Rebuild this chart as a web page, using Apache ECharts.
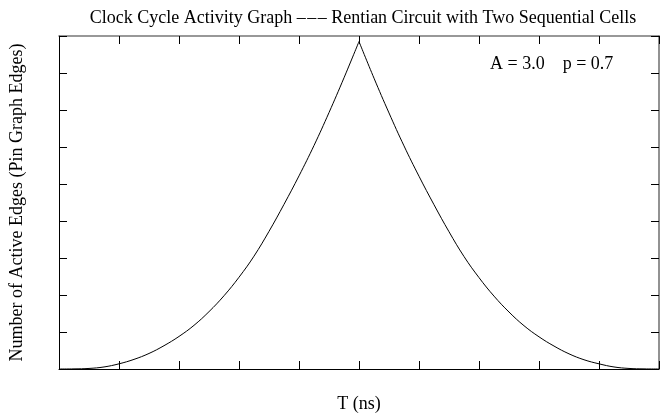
<!DOCTYPE html>
<html>
<head>
<meta charset="utf-8">
<script src="https://cdn.jsdelivr.net/npm/echarts@6/dist/echarts.min.js"></script>
<style>
  html, body { margin: 0; padding: 0; background: #fff; }
  #chart { width: 665px; height: 418px; }
</style>
</head>
<body>
<div id="chart"></div>
<script>
// rising half of the activity curve (T = 0 .. 5 ns)
const riseT = [0, 0.25, 0.5, 0.75, 1, 1.25, 1.5, 1.75, 2, 2.25, 2.5, 2.75, 3, 3.25, 3.5, 3.75, 4, 4.25, 4.5, 4.75, 5]
const riseEdges = [0, 0.003, 0.015, 0.055, 0.14, 0.26, 0.42, 0.63, 0.88, 1.18, 1.55, 1.98, 2.48, 3.05, 3.72, 4.45, 5.22, 6.04, 6.93, 7.87, 8.85]
// falling half (T = 5 .. 10 ns)
const fallT = [5, 5.25, 5.5, 5.75, 6, 6.25, 6.5, 6.75, 7, 7.25, 7.5, 7.75, 8, 8.25, 8.5, 8.75, 9, 9.25, 9.5, 9.75, 10]
const fallEdges = [8.85, 7.86, 6.92, 6.03, 5.21, 4.44, 3.71, 3.04, 2.47, 1.97, 1.54, 1.17, 0.87, 0.62, 0.41, 0.25, 0.14, 0.055, 0.015, 0.003, 0]

const xMax = 10
const yMax = 9
const paramText = 'A = 3.0    p = 0.7'

const font = 'Liberation Serif'
const chart = echarts.init(document.getElementById('chart'))

// shared axis style: ticks inside, no labels
function frameAxis(extra, lineColor, lineWidth) {
  return Object.assign({
    type: 'value',
    min: 0,
    interval: 1,
    axisLine: { show: true, onZero: false, lineStyle: { color: lineColor || '#000', width: lineWidth || 1 } },
    axisTick: { show: true, inside: true, length: 8, lineStyle: { color: '#000' } },
    axisLabel: { show: false },
    splitLine: { show: false }
  }, extra)
}

chart.setOption({
  animation: false,
  title: {
    text: 'Clock Cycle Activity Graph \u2013\u200a\u2013\u200a\u2013 Rentian Circuit with Two Sequential Cells',
    left: 358,
    textAlign: 'center',
    top: 4,
    textStyle: { fontFamily: font, fontSize: 18, fontWeight: 'normal', color: '#000' }
  },
  grid: { left: 58, right: 6, top: 36, bottom: 45 },
  xAxis: [
    frameAxis({
      max: xMax,
      position: 'bottom',
      name: 'T (ns)',
      nameLocation: 'middle',
      nameGap: 26,
      nameTextStyle: { fontFamily: font, fontSize: 18, color: '#000' }
    }),
    frameAxis({ max: xMax, position: 'top' }, '#777', 1.6)
  ],
  yAxis: [
    frameAxis({
      max: yMax,
      position: 'left',
      name: 'Number of Active Edges (Pin Graph Edges)',
      nameLocation: 'middle',
      nameGap: 33,
      nameTextStyle: { fontFamily: font, fontSize: 18, color: '#000' }
    }),
    frameAxis({ max: yMax, position: 'right' }, '#777', 1.6)
  ],
  graphic: [{
    type: 'text',
    left: 490,
    top: 55,
    style: { text: paramText, font: '18px "Liberation Serif"', fill: '#000' }
  }],
  series: [
    {
      type: 'line',
      data: riseT.map((t, i) => [t, riseEdges[i]]),
      smooth: 0.4,
      showSymbol: false,
      lineStyle: { color: '#000', width: 1 }
    },
    {
      type: 'line',
      data: fallT.map((t, i) => [t, fallEdges[i]]),
      smooth: 0.4,
      showSymbol: false,
      lineStyle: { color: '#000', width: 1 }
    }
  ]
})
</script>
</body>
</html>
